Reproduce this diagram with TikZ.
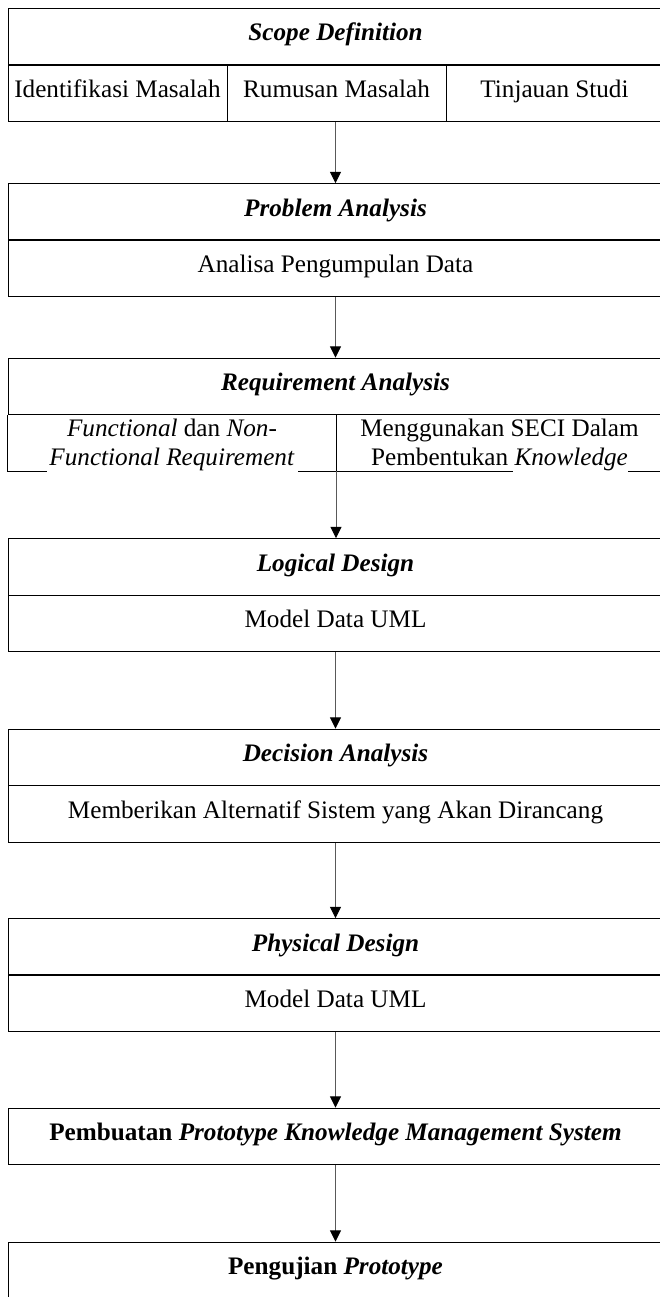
\documentclass[tikz,border=0pt]{standalone}
\usepackage{fontspec}
\setmainfont{Liberation Serif}
\usetikzlibrary{positioning, arrows.meta}
\newcommand{\boxfont}{\fontsize{21.5}{24.7}\selectfont}

\begin{document}
\begin{tikzpicture}[x=0.03cm, y=-0.03cm,
		every edge/.style = {draw=black!65, line width=0.8pt,
			-{Triangle[length=3.4mm, width=3.3mm, black]}},
		stagebox/.style = {draw, line width=0.8pt, minimum width=19.65cm,
			minimum height=1.7cm, inner sep=0pt, font=\boxfont,
			text height=0.86em, text depth=0.12em},
		stagehead/.style = {stagebox, font=\boxfont\bfseries\itshape},
		subcell/.style = {stagebox, minimum width=#1},
		celltext/.style = {align=center, inner sep=0pt, font=\boxfont}
                    ]
		\useasboundingbox (0,0) rectangle (659,1297);

		% scope definition
		\node(sd) [stagehead] at (335.5, 36.5) {Scope Definition};
		\node(id) [subcell=6.57cm] at (117.5, 93.5) {Identifikasi Masalah};
		\node(rm) [subcell=6.57cm] at (336.5, 93.5) {Rumusan Masalah};
		\node(tj) [subcell=6.51cm] at (554.5, 93.5) {Tinjauan Studi};

		% problem analysis
		\node(pa) [stagehead] at (335.5, 212) {Problem Analysis};
		\node(pb) [stagebox] at (335.5, 268) {Analisa Pengumpulan Data};

		% requirement analysis
		\node(ra) [stagehead] at (335.5, 386.5) {Requirement Analysis};
		\node(fn) [celltext] at (172, 445) {\textit{Functional} dan \textit{Non-}\\\textit{Functional Requirement}};
		\node(sc) [celltext] at (499.5, 445) {Menggunakan SECI Dalam\\Pembentukan \textit{Knowledge}};
		\coordinate(rs) at (336, 471);
		\draw[line width=0.8pt] (ra.south west) -- ++(0,56) -- ++(39,0);
		\draw[line width=0.8pt] (336,415) -- (rs);
		\draw[line width=0.8pt] (298,471) -- (513,471);
		\draw[line width=0.8pt] (628,471) -- (663,471);

		% logical design
		\node(ld) [stagehead] at (335.5, 567) {Logical Design};
		\node(lb) [stagebox] at (335.5, 623.5) {Model Data UML};

		% decision analysis
		\node(da) [stagehead] at (335.5, 757.5) {Decision Analysis};
		\node(db) [stagebox] at (335.5, 814) {Memberikan Alternatif Sistem yang Akan Dirancang};

		% physical design
		\node(pd) [stagehead] at (335.5, 947) {Physical Design};
		\node(pe) [stagebox] at (335.5, 1003) {Model Data UML};

		% prototype
		\node(pk) [stagebox] at (335.5, 1136.5) {\bfseries Pembuatan \textit{Prototype Knowledge Management System}};
		\node(pu) [stagebox] at (335.5, 1270.5) {\bfseries Pengujian \textit{Prototype}};

		\path   (pa.north |- rm.south) edge (pa.north)
        		(pb.south) edge (ra.north)
        		(rs) edge (rs |- ld.north)
        		(lb.south) edge (da.north)
        		(db.south) edge (pd.north)
        		(pe.south) edge (pk.north)
        		(pk.south) edge (pu.north);
	\end{tikzpicture}
\end{document}
